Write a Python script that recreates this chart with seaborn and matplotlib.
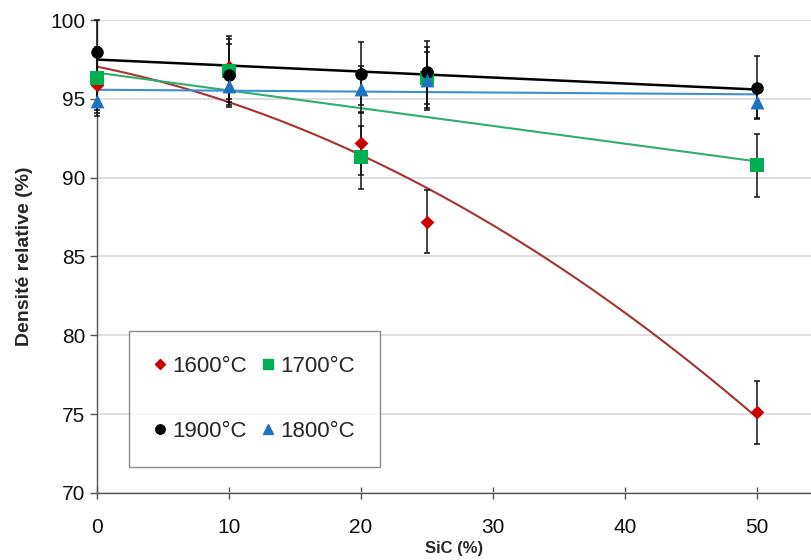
import numpy as np
import pandas as pd
import matplotlib
matplotlib.use("Agg")
import matplotlib.pyplot as plt
import seaborn as sns
from matplotlib.lines import Line2D

sic = [0, 10, 20, 25, 50]
d1600 = [95.9, 97.0, 92.2, 87.2, 75.1]
d1700 = [96.3, 96.8, 91.3, 96.3, 90.8]
d1900 = [98.0, 96.5, 96.6, 96.7, 95.7]
d1800 = [94.9, 95.8, 95.6, 96.2, 94.8]
err1600 = [2.0, 2.0, 2.0, 2.0, 2.0]
err1700 = [2.0, 2.0, 2.0, 2.0, 2.0]
err1900 = [2.0, 2.0, 2.0, 2.0, 2.0]
err1800 = [0.8, 1.2, 1.5, 1.8, 1.0]
labels = ["1600°C", "1700°C", "1900°C", "1800°C"]

sns.set_theme(style="white")
plt.rcParams['font.family'] = ['Liberation Sans', 'DejaVu Sans']

fig = plt.figure(figsize=(8.11, 5.6), dpi=100)
ax = fig.add_axes([0.1196, 0.12, 0.8804, 0.844])

series = [
    (labels[0], d1600, err1600, "D", "#CC0000", "#A83232", 2, 7),
    (labels[1], d1700, err1700, "s", "#00B050", "#2DAF6E", 1, 10),
    (labels[2], d1900, err1900, "o", "#000000", "#000000", 1, 9),
    (labels[3], d1800, err1800, "^", "#1F73BE", "#3C8FD2", 1, 10),
]

xs = np.linspace(0, 50, 200)
for name, ys, es, mk, col, lcol, deg, ms in series:
    coef = np.polyfit(sic, ys, deg)
    fit = pd.DataFrame({"x": xs, "y": np.polyval(coef, xs)})
    sns.lineplot(data=fit, x="x", y="y", ax=ax, color=lcol,
                 lw=1.8 if col == "#000000" else 1.5, zorder=2)
for name, ys, es, mk, col, lcol, deg, ms in series:
    df = pd.DataFrame({"x": sic, "y": ys})
    sns.scatterplot(data=df, x="x", y="y", ax=ax, marker=mk, color=col,
                    s=ms ** 2, edgecolor=col, linewidth=0, zorder=4, clip_on=False)
    eb = ax.errorbar(sic, ys, yerr=es, fmt="none", ecolor="#111111", elinewidth=1.1,
                     capsize=2.5, capthick=1.1, zorder=3)
    for art in list(eb.lines[1]) + list(eb.lines[2]):
        art.set_clip_on(False)

h = {}
for name, ys, es, mk, col, lcol, deg, ms in series:
    h[name] = Line2D([], [], marker=mk, color=col, linestyle="none",
                     markersize=ms * 0.75)
order = ["1600°C", "1900°C", "1700°C", "1800°C"]
leg = ax.legend([h[k] for k in order], order, ncol=2, loc="upper left",
                bbox_to_anchor=(0.0448, 0.343), fontsize=16, frameon=True,
                fancybox=False, edgecolor="#707070", handlelength=0.5,
                handletextpad=0.3, columnspacing=0.7, labelspacing=1.95,
                borderpad=1.15, borderaxespad=0.0)
leg.get_frame().set_linewidth(1.0)

ax.set_xlim(0, 54.09)
ax.set_ylim(70, 100)
ax.set_xticks([0, 10, 20, 30, 40, 50])
ax.set_yticks([70, 75, 80, 85, 90, 95, 100])
ax.yaxis.grid(True, color="#D9D9D9", lw=1.2)
ax.xaxis.grid(False)
for s in ["top", "right"]:
    ax.spines[s].set_visible(False)
for s in ["left", "bottom"]:
    ax.spines[s].set_color("#555555")
    ax.spines[s].set_linewidth(1.0)
ax.tick_params(axis="both", labelsize=15, colors="#555555", labelcolor="#111111",
               length=5, width=1.0, direction="out", left=True, bottom=True)
ax.tick_params(axis="x", direction="inout", length=8, pad=14)
ax.set_xlabel("SiC (%)", fontsize=12, fontweight="bold", labelpad=3)
ax.set_ylabel("Densité relative (%)", fontsize=14, fontweight="bold", labelpad=12)

fig.savefig("out.png", dpi=100)
